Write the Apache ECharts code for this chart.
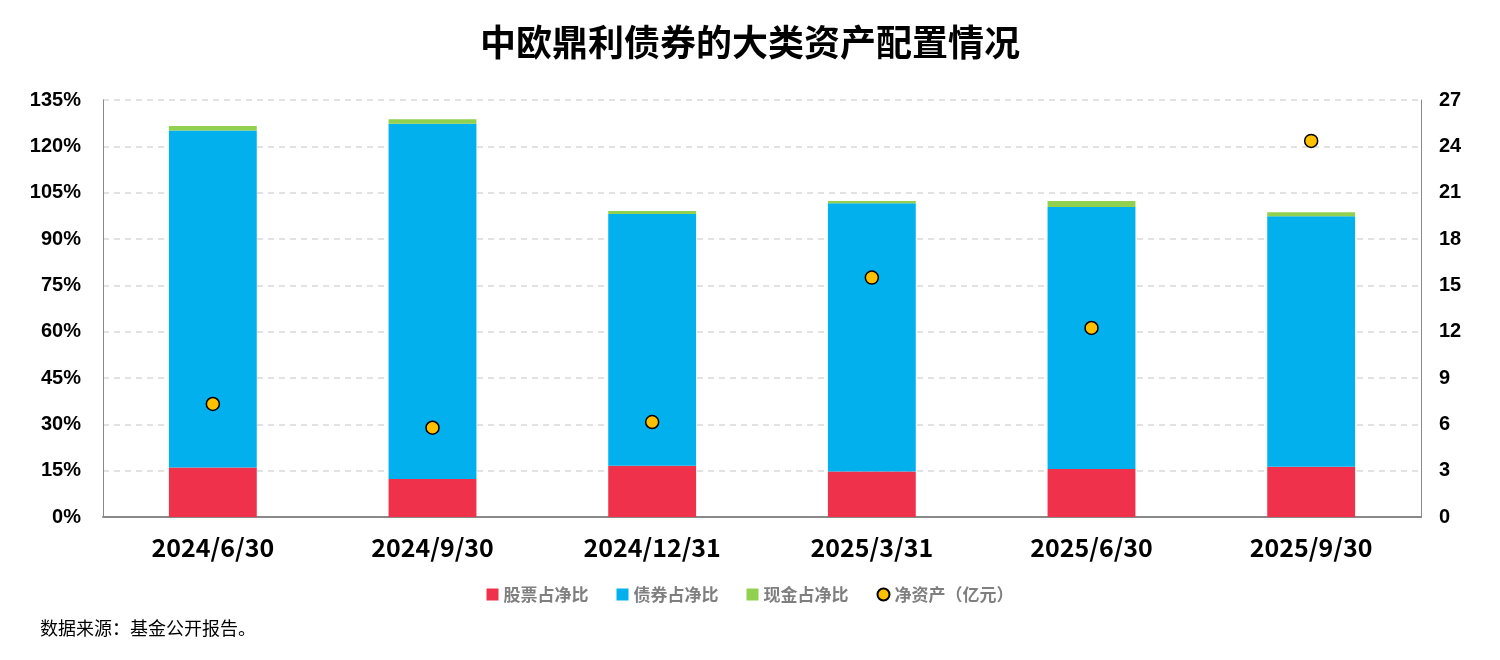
<!DOCTYPE html>
<html><head><meta charset="utf-8">
<script src="https://cdn.jsdelivr.net/npm/echarts@6/dist/echarts.min.js"></script>
<style>html,body{margin:0;padding:0;background:#fff}#c{width:1500px;height:660px}</style>
</head><body><div id="c"></div>
<script>
const categories = ['2024/6/30','2024/9/30','2024/12/31','2025/3/31','2025/6/30','2025/9/30'];
const stockPct = [16.0, 12.3, 16.6, 14.7, 15.5, 16.3];
const bondPct = [109.1, 115.0, 81.5, 86.9, 84.9, 81.1];
const cashPct = [1.5, 1.5, 1.0, 0.7, 1.9, 1.3];
const netAsset = [7.32, 5.78, 6.15, 15.5, 12.24, 24.35];
const leftTicks = {min:0, max:135, interval:15};
const rightTicks = {min:0, max:27, interval:3};

const chart = echarts.init(document.getElementById('c'));
const font = '"Microsoft YaHei","Noto Sans CJK SC",Arial,sans-serif';
chart.setOption({
  animation:false,
  title:{text:'中欧鼎利债券的大类资产配置情况', left:'center', top:19,
    textStyle:{fontSize:36, fontWeight:'bold', color:'#000', fontFamily:font}},
  legend:{bottom:52, left:'center', itemGap:28, itemWidth:12, itemHeight:12,
    textStyle:{fontSize:17, fontWeight:'bold', color:'#7f7f7f', fontFamily:font},
    data:[{name:'股票占净比',icon:'rect'},{name:'债券占净比',icon:'rect'},{name:'现金占净比',icon:'rect'},{name:'净资产（亿元）',icon:'circle'}]},
  graphic:[{type:'text', left:40, top:619, style:{text:'数据来源：基金公开报告。', fontSize:18, fill:'#000', fontFamily:font}}],
  grid:{left:103, right:79, top:100, bottom:143},
  xAxis:{type:'category', data:categories,
    axisLine:{lineStyle:{color:'#898989', width:2}}, axisTick:{show:false},
    axisLabel:{fontSize:25, fontWeight:'bold', color:'#000', margin:18, fontFamily:font}},
  yAxis:[
    {type:'value', min:leftTicks.min, max:leftTicks.max, interval:leftTicks.interval,
      axisLine:{show:true, lineStyle:{color:'#898989'}}, axisTick:{show:false},
      axisLabel:{formatter:'{value}%', fontSize:20, fontWeight:'bold', color:'#000', margin:22, fontFamily:'Arial, Liberation Sans'},
      splitLine:{lineStyle:{color:'#d9d9d9', type:[6,5], width:1.5}}},
    {type:'value', min:rightTicks.min, max:rightTicks.max, interval:rightTicks.interval, position:'right',
      axisLine:{show:true, lineStyle:{color:'#898989'}}, axisTick:{show:false},
      axisLabel:{fontSize:20, fontWeight:'bold', color:'#000', margin:18, fontFamily:'Arial, Liberation Sans'},
      splitLine:{show:false}}
  ],
  series:[
    {name:'股票占净比', type:'bar', stack:'a', data:stockPct, barWidth:'40%', itemStyle:{color:'#EF314B'}},
    {name:'债券占净比', type:'bar', stack:'a', data:bondPct, itemStyle:{color:'#03B0EE'}},
    {name:'现金占净比', type:'bar', stack:'a', data:cashPct, itemStyle:{color:'#92D050'}},
    {name:'净资产（亿元）', type:'scatter', yAxisIndex:1, data:netAsset, symbolSize:13, z:10,
      itemStyle:{color:'#FFC000', borderColor:'#000', borderWidth:1.5, opacity:1}}
  ]
});
</script></body></html>
